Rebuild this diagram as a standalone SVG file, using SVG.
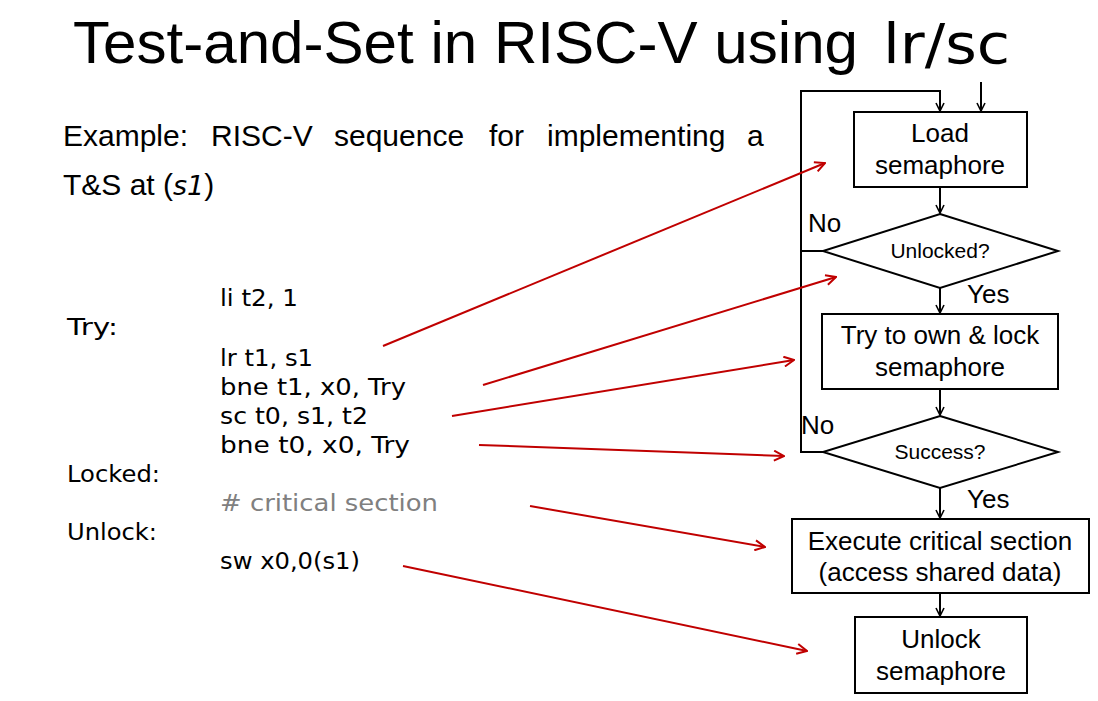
<svg xmlns="http://www.w3.org/2000/svg" width="1098" height="701" viewBox="0 0 1098 701">
<style>
.sans{font-family:"Liberation Sans",Arial,sans-serif;fill:#000}
.code{font-family:"DejaVu Sans","Open Sans",sans-serif;fill:#000}
.box{fill:#fff;stroke:#000;stroke-width:2}
.fl{fill:none;stroke:#000;stroke-width:2}
.red{fill:none;stroke:#C00000;stroke-width:2}
</style>
<defs>
<marker id="ab" viewBox="0 0 10 10" refX="9" refY="5" markerWidth="10" markerHeight="10" markerUnits="userSpaceOnUse" orient="auto">
<path d="M1,1 L9,5 L1,9" fill="none" stroke="#000" stroke-width="1.6"/>
</marker>
<marker id="ar" viewBox="0 0 12 12" refX="11" refY="6" markerWidth="12" markerHeight="12" markerUnits="userSpaceOnUse" orient="auto">
<path d="M1,1 L11,6 L1,11" fill="none" stroke="#C00000" stroke-width="2"/>
</marker>
</defs>
<rect width="1098" height="701" fill="#fff"/>
<g id="title">
<text class="sans" x="73" y="63" font-size="60" textLength="785" lengthAdjust="spacingAndGlyphs">Test-and-Set in RISC-V using</text>
<text class="code" x="883" y="63" font-size="56" textLength="127" lengthAdjust="spacingAndGlyphs">lr/sc</text>
</g>
<g id="intro">
<text class="sans" y="146" font-size="30"><tspan x="63">Example:</tspan><tspan x="211">RISC-V</tspan><tspan x="334">sequence</tspan><tspan x="489">for</tspan><tspan x="547">implementing</tspan><tspan x="747">a</tspan></text>
<text class="sans" x="63" y="195" font-size="30">T&amp;S at (<tspan class="code" font-style="italic" font-size="27">s1</tspan>)</text>
</g>
<g id="code">
<text class="code" x="67" y="335" font-size="23" textLength="51" lengthAdjust="spacingAndGlyphs">Try:</text>
<text class="code" x="67" y="482" font-size="23" textLength="93" lengthAdjust="spacingAndGlyphs">Locked:</text>
<text class="code" x="67" y="540" font-size="23" textLength="90" lengthAdjust="spacingAndGlyphs">Unlock:</text>
<text class="code" x="220" y="306" font-size="23" textLength="78" lengthAdjust="spacingAndGlyphs">li t2, 1</text>
<text class="code" x="220" y="366" font-size="23" textLength="93" lengthAdjust="spacingAndGlyphs">lr t1, s1</text>
<text class="code" x="220" y="395" font-size="23" textLength="186" lengthAdjust="spacingAndGlyphs">bne t1, x0, Try</text>
<text class="code" x="220" y="424" font-size="23" textLength="148" lengthAdjust="spacingAndGlyphs">sc t0, s1, t2</text>
<text class="code" x="220" y="453" font-size="23" textLength="190" lengthAdjust="spacingAndGlyphs">bne t0, x0, Try</text>
<text class="code" x="220" y="511" font-size="23" style="fill:#808080" textLength="218" lengthAdjust="spacingAndGlyphs"># critical section</text>
<text class="code" x="220" y="569" font-size="23" textLength="140" lengthAdjust="spacingAndGlyphs">sw x0,0(s1)</text>
</g>
<g id="load">
<rect class="box" x="854" y="112" width="173" height="75"/>
<text class="sans" x="940" y="142" font-size="26" text-anchor="middle">Load</text>
<text class="sans" x="940" y="174" font-size="26" text-anchor="middle">semaphore</text>
</g>
<g id="unlocked">
<polygon class="box" points="940,214 1058,251 940,288 823,251"/>
<text class="sans" x="940" y="258" font-size="21" text-anchor="middle">Unlocked?</text>
</g>
<g id="try">
<rect class="box" x="822" y="314" width="236" height="75"/>
<text class="sans" x="940" y="344" font-size="26" text-anchor="middle">Try to own &amp; lock</text>
<text class="sans" x="940" y="376" font-size="26" text-anchor="middle">semaphore</text>
</g>
<g id="success">
<polygon class="box" points="940,416 1058,452 940,488 823,452"/>
<text class="sans" x="940" y="459" font-size="21" text-anchor="middle">Success?</text>
</g>
<g id="execute">
<rect class="box" x="792" y="519" width="297" height="74"/>
<text class="sans" x="940" y="550" font-size="26" text-anchor="middle">Execute critical section</text>
<text class="sans" x="940" y="581" font-size="26" text-anchor="middle">(access shared data)</text>
</g>
<g id="unlock">
<rect class="box" x="855" y="617" width="172" height="76"/>
<text class="sans" x="941" y="648" font-size="26" text-anchor="middle">Unlock</text>
<text class="sans" x="941" y="680" font-size="26" text-anchor="middle">semaphore</text>
</g>
<g id="connectors">
<polyline class="fl" points="823,452 801,452 801,91 940,91 940,111" marker-end="url(#ab)"/>
<line class="fl" x1="801" y1="251" x2="823" y2="251"/>
<line class="fl" x1="981" y1="82" x2="981" y2="111" marker-end="url(#ab)"/>
<line class="fl" x1="940" y1="187" x2="940" y2="213" marker-end="url(#ab)"/>
<line class="fl" x1="940" y1="288" x2="940" y2="313" marker-end="url(#ab)"/>
<line class="fl" x1="940" y1="389" x2="940" y2="415" marker-end="url(#ab)"/>
<line class="fl" x1="940" y1="488" x2="940" y2="518" marker-end="url(#ab)"/>
<line class="fl" x1="940" y1="593" x2="940" y2="616" marker-end="url(#ab)"/>
<text class="sans" x="808" y="232" font-size="26">No</text>
<text class="sans" x="967" y="303" font-size="26">Yes</text>
<text class="sans" x="801" y="434" font-size="26">No</text>
<text class="sans" x="967" y="508" font-size="26">Yes</text>
<line class="red" x1="383" y1="346" x2="825" y2="163" marker-end="url(#ar)"/>
<line class="red" x1="483" y1="385" x2="836" y2="277" marker-end="url(#ar)"/>
<line class="red" x1="452" y1="416" x2="794" y2="360" marker-end="url(#ar)"/>
<line class="red" x1="479" y1="445" x2="784" y2="456" marker-end="url(#ar)"/>
<line class="red" x1="530" y1="506" x2="765" y2="547" marker-end="url(#ar)"/>
<line class="red" x1="403" y1="566" x2="807" y2="651" marker-end="url(#ar)"/>
</g>
</svg>
